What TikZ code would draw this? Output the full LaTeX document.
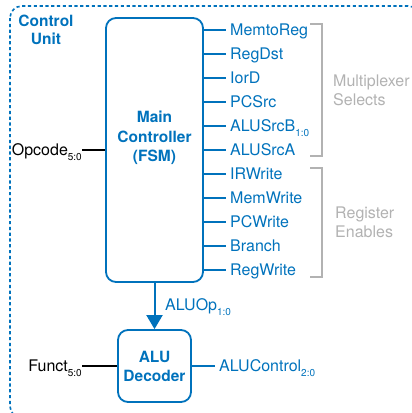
\documentclass[tikz,border=0pt]{standalone}
\usepackage{fontspec}
\setmainfont{TeX Gyre Heros}
\usetikzlibrary{arrows.meta, positioning, calc}
\definecolor{cublue}{RGB}{0,114,188}
\definecolor{brgray}{RGB}{178,178,178}
\newcommand{\bitsub}[1]{\raisebox{-4.5pt}{\fontsize{10}{12}\selectfont #1}}

\begin{document}
\begin{tikzpicture}[x=1pt, y=-1pt, >={Triangle[length=14pt,width=16pt]},
    font=\fontsize{16}{19}\selectfont,
    block/.style={draw=cublue, line width=1.8pt, rounded corners=10pt, inner sep=0pt},
    sig/.style={text=cublue, anchor=west, inner sep=0pt, text height=11pt, text depth=0pt, xshift=4pt},
    inp/.style={anchor=east, inner sep=0pt, text height=11pt, text depth=0pt},
    wire/.style={cublue, line width=1.4pt},
    bracket/.style={brgray, line width=1.5pt},
    note/.style={text=brgray, align=left, anchor=west, inner sep=0pt}]
    \useasboundingbox (0,0) rectangle (412,413);
    \clip (0,0) rectangle (412,413);

    % dotted outline of the unit
    \draw[cublue, line width=1.6pt, dash pattern=on 3.2pt off 2.6pt, rounded corners=12pt]
        (10,6) rectangle (420,418);
    \node[text=cublue, font=\fontsize{15.5}{18}\selectfont\bfseries, align=center] (cu) at (46,30) {Control\\Unit};

    % main controller and ALU decoder
    \node[block, minimum width=97pt, minimum height=264pt] (fsm) at (154.5,150) {};
    \node[text=cublue, font=\fontsize{15.5}{19.5}\selectfont\bfseries, align=center] (fsmtxt) at (154.5,138) {Main\\Controller\\(FSM)};
    \node[block, minimum width=73pt, minimum height=72pt, text=cublue, align=center,
        font=\fontsize{15.5}{19}\selectfont\bfseries] (alu) at (154.5,366) {ALU\\Decoder};

    % control outputs
    \foreach \lbl [count=\i] in {MemtoReg, RegDst, IorD, PCSrc, {ALUSrcB\bitsub{1:0}}, ALUSrcA,
        IRWrite, MemWrite, PCWrite, Branch, RegWrite} {
        \node[sig] (o\i) at (226,6+24*\i) {\lbl};
        \draw[wire] (fsm.east |- o\i.west) -- ([xshift=-4pt]o\i.west);
    }

    % brackets
    \draw[bracket] (310,24) -- (322,24) -- (322,156) -- (310,156);
    \draw[bracket] (310,168) -- (322,168) -- (322,277) -- (310,277);
    \node[note] (mux) at (333,90) {Multiplexer\\Selects};
    \node[note] (reg) at (335,222) {Register\\Enables};

    % inputs
    \node[inp] (op) at (82,150) {Opcode\bitsub{5:0}};
    \draw[line width=1.4pt] (op.east) -- (fsm.west |- op.east);
    \node[inp] (fn) at (82,366) {Funct\bitsub{5:0}};
    \draw[line width=1.4pt] (fn.east) -- (alu.west |- fn.east);

    % ALUOp and ALUControl
    \draw[->, cublue, line width=2pt] (fsm.south) -- (alu.north);
    \node[sig] (aluop) at (161,305) {ALUOp\bitsub{1:0}};
    \node[sig] (aluctl) at (215,366) {ALUControl\bitsub{2:0}};
    \draw[wire] (alu.east) -- ([xshift=-4pt]aluctl.west);
\end{tikzpicture}
\end{document}
